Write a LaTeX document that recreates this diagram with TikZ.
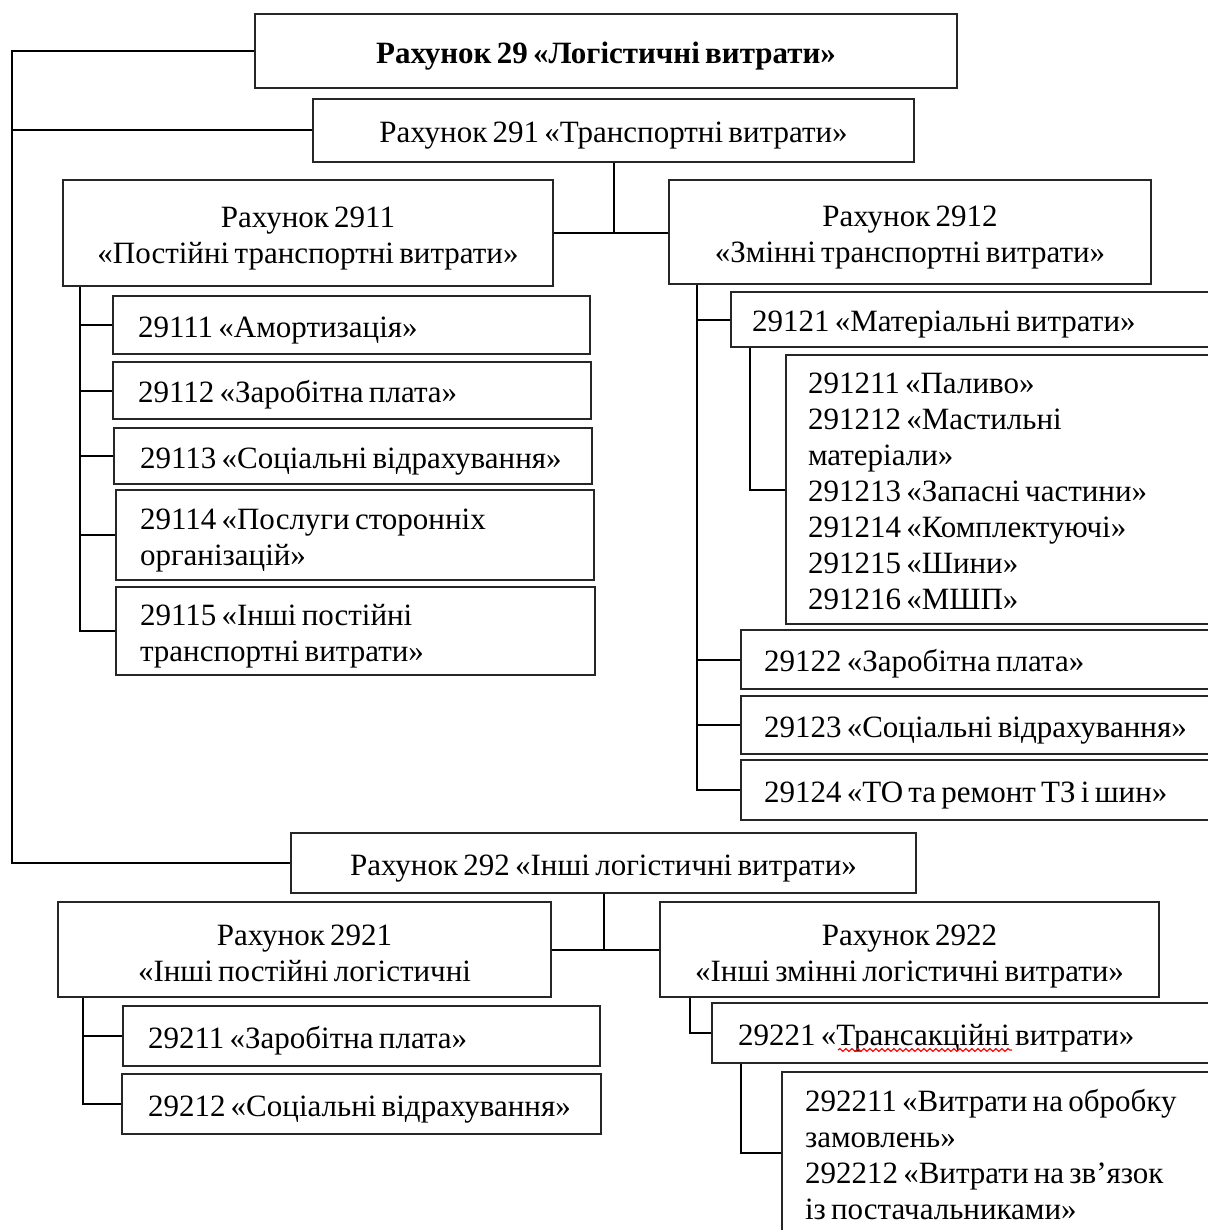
\documentclass[tikz,border=0pt]{standalone}
\usepackage{fontspec}
\setmainfont{Liberation Serif}[WordSpace=0.65]
\usetikzlibrary{decorations.pathmorphing}
\begin{document}
\begin{tikzpicture}[x=0.5pt,y=-0.5pt,
  box/.style={draw=black!85,line width=1pt,rectangle,inner ysep=0pt,font=\fontsize{15.5}{18}\selectfont,
    execute at begin node={\spaceskip=0.17em plus 0.05em\xspaceskip=0.17em\rule{0pt}{1.05em}},execute at end node={\rule[-0.27em]{0pt}{0pt}}},
  cbox/.style={box,align=center},
  lbox/.style={box,align=left},
  conn/.style={draw=black,line width=1pt}]
\useasboundingbox (0,0) rectangle (1208,1230);
\fill[white] (0,0) rectangle (1208,1230);
% level 0 / 1
\node[cbox,minimum width=351pt,minimum height=37pt,font=\fontsize{15.5}{18}\selectfont\bfseries] (n29) at (606,51) {Рахунок 29 «Логістичні витрати»};
\node[cbox,minimum width=300.5pt,minimum height=31.5pt] (n291) at (613.5,130.5) {Рахунок 291 «Транспортні витрати»};
\node[cbox,minimum width=245pt,minimum height=53pt] (n2911) at (308,233) {\rule{0pt}{1.1em}Рахунок 2911\\«Постійні транспортні витрати»};
\node[cbox,minimum width=241pt,minimum height=52pt] (n2912) at (910,232) {\rule{0pt}{1.1em}Рахунок 2912\\«Змінні транспортні витрати»};
% 2911 children
\node[lbox,minimum width=238.5pt,minimum height=29pt,inner xsep=12.5pt,text width=213.5pt] (n29111) at (351.5,325) {29111 «Амортизація»};
\node[lbox,minimum width=239pt,minimum height=28.5pt,inner xsep=12.5pt,text width=214pt] (n29112) at (352,390.5) {29112 «Заробітна плата»};
\node[lbox,minimum width=239pt,minimum height=28pt,inner xsep=13pt,text width=213pt] (n29113) at (353,456) {29113~«Соціальні~відрахування»};
\node[lbox,minimum width=239pt,minimum height=45pt,inner xsep=12pt,text width=215pt] (n29114) at (355,535) {29114 «Послуги сторонніх\\організацій»};
\node[lbox,minimum width=239.5pt,minimum height=44pt,inner xsep=12pt,text width=215.5pt] (n29115) at (355.5,631) {29115 «Інші постійні\\транспортні витрати»};
% 2912 children
\node[lbox,minimum width=242.5pt,minimum height=27.5pt,inner xsep=10.5pt,text width=221.5pt] (n29121) at (973.5,319.5) {29121~«Матеріальні~витрати»};
\node[lbox,minimum width=215pt,minimum height=134.5pt,inner xsep=11pt,text width=193pt] (n29121x) at (1001,489.5) {291211 «Паливо»\\291212 «Мастильні\\матеріали»\\291213~«Запасні~частини»\\291214 «Комплектуючі»\\291215 «Шини»\\291216 «МШП»};
\node[lbox,minimum width=237.5pt,minimum height=29.5pt,inner xsep=11.5pt,text width=214.5pt] (n29122) at (978.5,659.5) {29122 «Заробітна плата»};
\node[lbox,minimum width=237.5pt,minimum height=29pt,inner xsep=11.5pt,text width=214.5pt] (n29123) at (978.5,725) {29123~«Соціальні~відрахування»};
\node[lbox,minimum width=237.5pt,minimum height=30pt,inner xsep=11.5pt,text width=214.5pt] (n29124) at (978.5,790) {29124~«ТО~та~ремонт~ТЗ~і~шин»};
% 292
\node[cbox,minimum width=312.5pt,minimum height=30pt] (n292) at (603.5,863) {Рахунок 292 «Інші логістичні витрати»};
\node[cbox,minimum width=246.5pt,minimum height=47.5pt] (n2921) at (304.5,949.5) {\rule{0pt}{1.2em}Рахунок 2921\\«Інші постійні логістичні};
\node[cbox,minimum width=249.5pt,minimum height=47.5pt] (n2922) at (909.5,949.5) {\rule{0pt}{1.2em}Рахунок 2922\\«Інші змінні логістичні витрати»};
\node[lbox,minimum width=238.5pt,minimum height=30pt,inner xsep=12.5pt,text width=213.5pt] (n29211) at (361.5,1036) {29211 «Заробітна плата»};
\node[lbox,minimum width=239.5pt,minimum height=30pt,inner xsep=13pt,text width=213.5pt] (n29212) at (361.5,1104) {29212~«Соціальні~відрахування»};
\node[lbox,minimum width=252pt,minimum height=30pt,inner xsep=13pt,text width=226pt] (n29221) at (964,1033) {29221~«Трансакційні~витрати»};
\node[lbox,minimum width=217pt,minimum height=81pt,inner xsep=11.5pt,text width=194pt] (n29221x) at (999,1153) {292211~«Витрати~на~обробку\\замовлень»\\292212~«Витрати~на~зв’язок\\із постачальниками»};
% connector rails
\coordinate (lx) at (12,0);
\coordinate (ra) at (80,0);
\coordinate (rb) at (697,0);
\coordinate (rc) at (750,0);
\coordinate (re) at (83,0);
\coordinate (rf) at (690,0);
\coordinate (rg) at (741,0);
% main trunk
\draw[conn] (n29.west) -- (n29.west -| lx) |- (n292.west);
\draw[conn] (lx |- n291.west) -- (n291.west);
% 291
\draw[conn] (n291.south) -- (n291.south |- n2911.east);
\draw[conn] (n2911.east) -- (n2911.east -| n2912.west);
% 2911
\draw[conn] (ra |- n2911.south) |- (n29115.west);
\draw[conn] (ra |- n29111.west) -- (n29111.west);
\draw[conn] (ra |- n29112.west) -- (n29112.west);
\draw[conn] (ra |- n29113.west) -- (n29113.west);
\draw[conn] (ra |- n29114.west) -- (n29114.west);
% 2912
\draw[conn] (rb |- n2912.south) |- (n29124.west);
\draw[conn] (rb |- n29121.west) -- (n29121.west);
\draw[conn] (rb |- n29122.west) -- (n29122.west);
\draw[conn] (rb |- n29123.west) -- (n29123.west);
\draw[conn] (rc |- n29121.south) |- (n29121x.west);
% 292
\draw[conn] (n292.south) -- (n292.south |- n2921.east);
\draw[conn] (n2921.east) -- (n2922.west);
\draw[conn] (re |- n2921.south) |- (n29212.west);
\draw[conn] (re |- n29211.west) -- (n29211.west);
\draw[conn] (rf |- n2922.south) |- (n29221.west);
\draw[conn] (rg |- n29221.south) |- (n29221x.west);
% spell-check squiggle
\coordinate (s1) at (838,1050);
\coordinate (s2) at (1012,1050);
\draw[red,line width=0.6pt,decorate,decoration={snake,amplitude=0.7pt,segment length=3pt}] (s1) -- (s2);
\end{tikzpicture}
\end{document}
